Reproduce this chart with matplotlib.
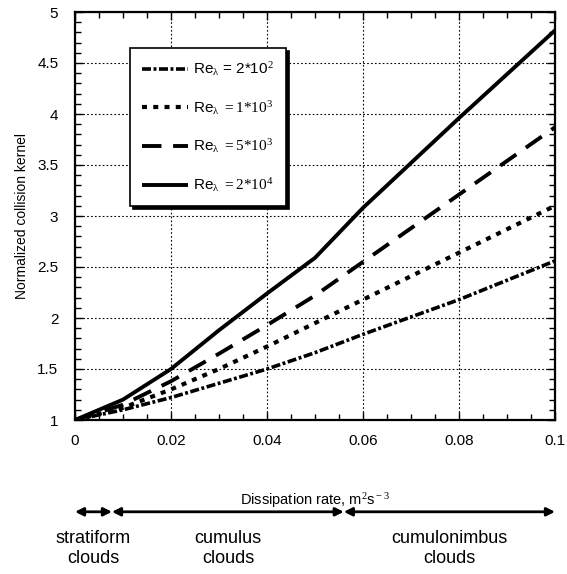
import numpy as np
import matplotlib
matplotlib.use('Agg')
import matplotlib.pyplot as plt
from matplotlib.ticker import MultipleLocator

plt.rcParams.update({'font.family': ['Liberation Sans', 'DejaVu Sans'],
                     'mathtext.fontset': 'custom',
                     'mathtext.rm': 'Liberation Serif',
                     'mathtext.it': 'Liberation Serif',
                     'xtick.direction': 'in', 'ytick.direction': 'in'})

# dissipation rate, m^2 s^-3
eps = [0, 0.01, 0.02, 0.03, 0.04, 0.05, 0.06, 0.07, 0.08, 0.09, 0.1]
k_2e2 = [1, 1.10, 1.22, 1.36, 1.50, 1.66, 1.84, 2.01, 2.18, 2.37, 2.56]
k_1e3 = [1, 1.12, 1.30, 1.50, 1.72, 1.95, 2.18, 2.41, 2.64, 2.87, 3.10]
k_5e3 = [1, 1.15, 1.38, 1.65, 1.93, 2.22, 2.55, 2.88, 3.21, 3.54, 3.87]
k_2e4 = [1, 1.20, 1.50, 1.88, 2.24, 2.59, 3.08, 3.52, 3.96, 4.39, 4.82]

labels = [r'Re$_{\lambda}$ = 2*10$^{2}$', r'Re$_{\lambda}$ $= 1{*}10^{3}$',
          r'Re$_{\lambda}$ $= 5{*}10^{3}$', r'Re$_{\lambda}$ $= 2{*}10^{4}$']

# cloud type ranges along the dissipation axis
zone_edges = [0, 0.0077, 0.056, 0.1]
zone_names = ['stratiform\nclouds', 'cumulus\nclouds', 'cumulonimbus\nclouds']

fig = plt.figure(figsize=(5.67, 5.74), dpi=100)
ax = fig.add_axes([75 / 567, 1 - 420 / 574, 480 / 567, 408 / 574])

series = [(k_2e2, (0, (2.5, 0.7, 0.8, 0.7)), 2.6),
          (k_1e3, (0, (1.2, 1.5)), 3.0),
          (k_5e3, (0, (5, 3)), 2.8),
          (k_2e4, '-', 2.8)]
for (vals, ls, lw), lab in zip(series, labels):
    ax.plot(eps, vals, color='black', linestyle=ls, linewidth=lw, label=lab,
            solid_capstyle='butt', dash_capstyle='butt')

ax.set_xlim(0, 0.1)
ax.set_ylim(1, 5)
ax.xaxis.set_minor_locator(MultipleLocator(0.005))
ax.yaxis.set_minor_locator(MultipleLocator(0.1))
ax.set_xticks([0, 0.02, 0.04, 0.06, 0.08, 0.1])
ax.set_xticklabels(['0', '0.02', '0.04', '0.06', '0.08', '0.1'])
ax.set_yticks([1, 1.5, 2, 2.5, 3, 3.5, 4, 4.5, 5])
ax.set_yticklabels(['1', '1.5', '2', '2.5', '3', '3.5', '4', '4.5', '5'])
ax.tick_params(which='both', top=True, right=True, labelsize=11)
ax.tick_params(which='major', length=6, width=1)
ax.tick_params(which='minor', length=4, width=1)
ax.tick_params(axis='y', which='major', pad=12)
ax.tick_params(axis='x', which='major', pad=10)
ax.grid(True, which='major', color='black', linestyle=(0, (1.5, 2)), linewidth=0.8)
for s in ax.spines.values():
    s.set_linewidth(1.6)

ax.set_xlabel('Dissipation rate, m$^{\\rm 2}$s$^{\\rm -3}$', fontsize=10.5, labelpad=31)
ax.set_ylabel('Normalized collision kernel', fontsize=10, labelpad=6)

leg = ax.legend(loc='upper left', bbox_to_anchor=(0.115, 0.912), fontsize=11,
                frameon=True, fancybox=False, edgecolor='black', framealpha=1,
                shadow={'color': 'black', 'alpha': 1}, handlelength=3.0,
                labelspacing=1.35, borderpad=0.8, handletextpad=0.3,
                borderaxespad=0)
leg.get_frame().set_linewidth(1.2)

tr = ax.get_xaxis_transform()
for a, b in zip(zone_edges[:-1], zone_edges[1:]):
    ax.annotate('', xy=(b, -0.225), xytext=(a, -0.225), xycoords=tr,
                textcoords=tr, annotation_clip=False,
                arrowprops=dict(arrowstyle='<|-|>', color='black', lw=2,
                                mutation_scale=12, shrinkA=0, shrinkB=0))
for a, b, name in zip(zone_edges[:-1], zone_edges[1:], zone_names):
    ax.text((a + b) / 2, -0.315, name, transform=tr, ha='center', va='center',
            fontsize=13, linespacing=1.2)

fig.savefig('out.png', dpi=100)
